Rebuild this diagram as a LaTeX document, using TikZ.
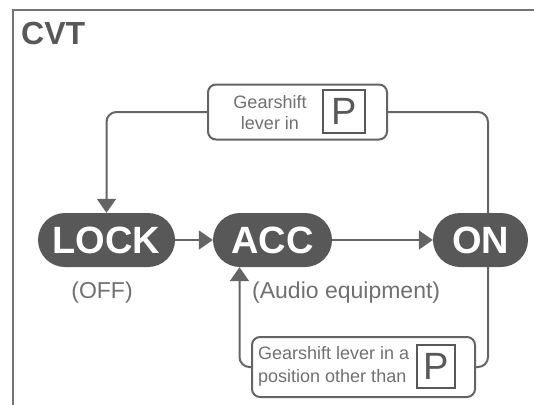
\documentclass[tikz,border=0pt]{standalone}
\usepackage{fontspec}
\setmainfont{Liberation Sans}
\usetikzlibrary{arrows.meta, backgrounds, positioning}
\definecolor{CVTdark}{RGB}{88,88,88}
\definecolor{CVTline}{RGB}{100,100,100}
\definecolor{CVTtext}{RGB}{112,112,112}

\begin{document}
\begin{tikzpicture}[x=1pt, y=-1pt,
    pill/.style={rectangle, rounded corners=27pt, fill=CVTdark, text=white,
                 minimum height=54pt, inner sep=0pt,
                 font=\fontsize{38}{38}\selectfont\bfseries},
    lbox/.style={draw=CVTline, line width=2pt, rounded corners=8pt, inner sep=0pt},
    pbox/.style={draw=CVTdark, line width=2.2pt, inner sep=0pt, text=CVTdark,
                 font=\fontsize{38}{38}\selectfont},
    note/.style={text=CVTtext, inner sep=0pt},
    wire/.style={draw=CVTline, line width=2pt, rounded corners=10pt},
    arr/.style={wire, -{Triangle[length=14pt,width=19pt]}}
  ]
  \useasboundingbox (0,0) rectangle (534,404);

  % frame and title
  \draw[CVTline!90, line width=2pt] (12.5,420) |- (550,10.5);
  \node[note, text=CVTdark, anchor=base west, font=\fontsize{32}{32}\selectfont\bfseries]
        (title) at (21,45) {CVT};

  % key positions
  \node[pill, minimum width=137pt] (lock) at (106.5,240) {LOCK};
  \node[pill, minimum width=119pt] (acc)  at (272.5,240) {ACC};
  \node[pill, minimum width=95pt]  (on)   at (480.5,240) {ON};

  \node[note, font=\fontsize{23}{23}\selectfont] (off) at (102,293) {(OFF)};
  \node[note, anchor=west, font=\fontsize{23}{23}\selectfont] (audio) at (252,293)
        {(Audio equipment)};

  % gearshift conditions
  \node[lbox, minimum width=179pt, minimum height=55pt] (tbox) at (297.5,112) {};
  \node[note, align=center, font=\fontsize{18}{21}\selectfont] (ttxt) at (270,112.5)
        {Gearshift\\lever in};
  \node[pbox, minimum width=42pt, minimum height=43pt] (tp) at (344,111.5) {P};

  \node[lbox, minimum width=223pt, minimum height=60pt] (bbox) at (363.5,367) {};
  \node[note, anchor=west, align=left, font=\fontsize{18}{23}\selectfont] (btxt)
        at (258,366.5) {Gearshift lever in a\\position other than};
  \node[pbox, minimum width=38pt, minimum height=43pt] (bp) at (436,366.5) {P};

  \coordinate (rside) at (488,240);

  % connectors
  \draw[arr] (lock) -- (acc);
  \draw[arr] (acc) -- (on);
  \draw[arr] (tbox.west) -| (lock.north);
  \draw[arr] (bbox.west) -| ([xshift=-33pt]acc.south);
  \begin{scope}[on background layer]
    \draw[wire] (tbox.east) -| (rside) |- (bbox.east);
  \end{scope}
\end{tikzpicture}
\end{document}
